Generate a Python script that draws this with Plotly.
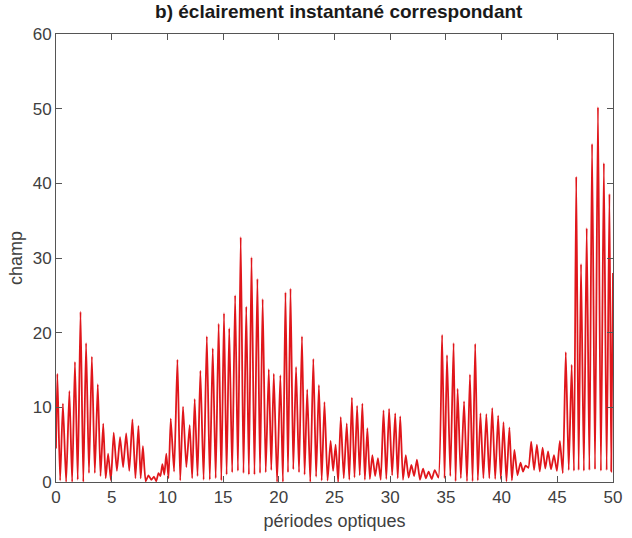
import plotly.graph_objects as go

# Peak positions (optical periods) and peak values of the instantaneous illumination
peak_x = [0.12, 0.62, 1.2, 1.7, 2.2, 2.7, 3.22, 3.75, 4.24, 4.68,
          5.18, 5.75, 6.3, 6.86, 7.4, 7.8, 8.3, 8.8, 9.2, 9.55,
          9.9, 10.3, 10.9, 11.4, 12.0, 12.45, 12.96, 13.54, 14.07, 14.6,
          15.08, 15.55, 16.08, 16.58, 17.08, 17.55, 18.08, 18.55, 19.1, 19.55,
          20.14, 20.6, 21.05, 21.55, 22.08, 22.55, 23.1, 23.6, 24.1, 24.65,
          25.1, 25.56, 26.1, 26.56, 27.03, 27.5, 27.95, 28.4, 28.9, 29.4,
          29.9, 30.45, 30.9, 31.4, 31.9, 32.4, 32.95, 33.45, 34.0, 34.66,
          35.1, 35.69, 36.05, 36.63, 37.16, 37.63, 38.1, 38.63, 39.16, 39.69,
          40.17, 40.7, 41.15, 41.7, 42.15, 42.66, 43.17, 43.68, 44.17, 44.7,
          45.23, 45.76, 46.29, 46.7, 47.13, 47.64, 48.12, 48.65, 49.18, 49.68]
peak_y = [14.5, 10.5, 12.2, 16.1, 22.8, 18.6, 16.8, 13.1, 7.8, 3.8,
          6.6, 6.0, 6.5, 8.4, 7.5, 4.8, 0.9, 0.7, 1.2, 2.4,
          3.8, 8.5, 16.4, 10.1, 7.6, 11.1, 14.9, 19.5, 17.9, 21.2,
          22.6, 20.6, 25.0, 32.8, 23.5, 30.1, 27.2, 24.5, 15.1, 14.5,
          14.3, 25.4, 25.9, 15.4, 19.5, 12.4, 16.5, 13.0, 10.7, 5.5,
          5.0, 8.7, 7.85, 11.3, 10.2, 10.5, 7.2, 3.6, 3.2, 9.6,
          9.8, 9.2, 8.8, 3.6, 2.3, 3.0, 1.8, 1.4, 1.6, 19.7,
          17.0, 18.6, 12.5, 10.8, 14.4, 18.5, 9.2, 9.1, 9.9, 8.9,
          8.0, 7.3, 4.3, 2.6, 2.2, 5.4, 5.0, 4.6, 4.1, 3.6,
          5.5, 17.4, 15.7, 40.9, 29.2, 34.0, 45.3, 50.2, 42.7, 38.6]
# Trough values between consecutive peaks
trough_y = [0.2, 0.0, 0.0, 0.3, 0.0, 1.2, 1.2, 0.8, 0.5, 0.2,
            1.5, 2.0, 1.5, 0.5, 0.5, 0.1, 0.3, 0.1, 0.8, 1.0,
            0.5, 1.4, 0.2, 2.0, 0.5, 0.8, 0.3, 0.3, 0.5, 0.2,
            1.0, 1.3, 1.5, 1.2, 1.0, 1.0, 1.2, 1.3, 1.6, 0.0,
            0.0, 1.3, 1.7, 1.3, 1.0, 0.0, 0.7, 0.2, 0.2, 1.5,
            0.0, 0.5, 0.3, 0.6, 0.9, 0.3, 0.4, 0.8, 0.3, 0.4,
            0.9, 0.5, 0.3, 0.6, 0.8, 0.3, 0.5, 0.4, 0.6, 0.5,
            0.8, 0.1, 0.5, 0.1, 0.1, 0.2, 0.5, 0.5, 0.4, 0.4,
            0.1, 0.2, 0.9, 1.4, 1.9, 1.6, 1.4, 1.8, 1.7, 1.5,
            1.2, 1.6, 1.5, 1.6, 1.5, 1.6, 1.7, 1.5, 1.6]
start_point = (0.0, 4.5)
end_point = (50.0, 28.0)

x_ticks = [0, 5, 10, 15, 20, 25, 30, 35, 40, 45, 50]
y_ticks = [0, 10, 20, 30, 40, 50, 60]

# Assemble the polyline: start, peak, trough, peak, ..., end
xs = [start_point[0]]
ys = [start_point[1]]
for i in range(len(peak_x)):
    xs.append(peak_x[i])
    ys.append(peak_y[i])
    if i < len(trough_y):
        xs.append((peak_x[i] + peak_x[i + 1]) / 2)
        ys.append(trough_y[i])
xs.append((peak_x[-1] + end_point[0]) / 2)
ys.append(1.4)
xs.append(end_point[0])
ys.append(end_point[1])

FONT = "Liberation Sans, Arial, Helvetica"

fig = go.Figure()
fig.add_trace(go.Scatter(x=xs, y=ys, mode="lines",
                         line=dict(color="#e0161b", width=1.8, shape="spline", smoothing=0.5),
                         hoverinfo="skip", showlegend=False))

axis_common = dict(showgrid=False, zeroline=False, showline=True, mirror="ticks",
                   linecolor="#555555", linewidth=1, ticks="inside", ticklen=6,
                   tickcolor="#555555", tickwidth=1,
                   tickfont=dict(family=FONT, size=17, color="#404040"))

fig.update_layout(
    width=632, height=538,
    margin=dict(l=56, r=10, t=34, b=56),
    paper_bgcolor="white", plot_bgcolor="white",
    title=dict(text="<b>b) éclairement instantané correspondant</b>",
               x=0.536, xanchor="center", y=0.992, yanchor="top",
               font=dict(family=FONT, size=19, color="#1a1a1a")),
    xaxis=dict(range=[0, 50], tickvals=x_ticks,
               title=dict(text="périodes optiques", standoff=7,
                          font=dict(family=FONT, size=18, color="#404040")),
               **axis_common),
    yaxis=dict(range=[0, 60], tickvals=y_ticks,
               title=dict(text="champ", standoff=5,
                          font=dict(family=FONT, size=18, color="#404040")),
               **axis_common),
)

fig.write_html("out.html", config={"displayModeBar": False},
               post_script="document.body.style.margin='0';")
